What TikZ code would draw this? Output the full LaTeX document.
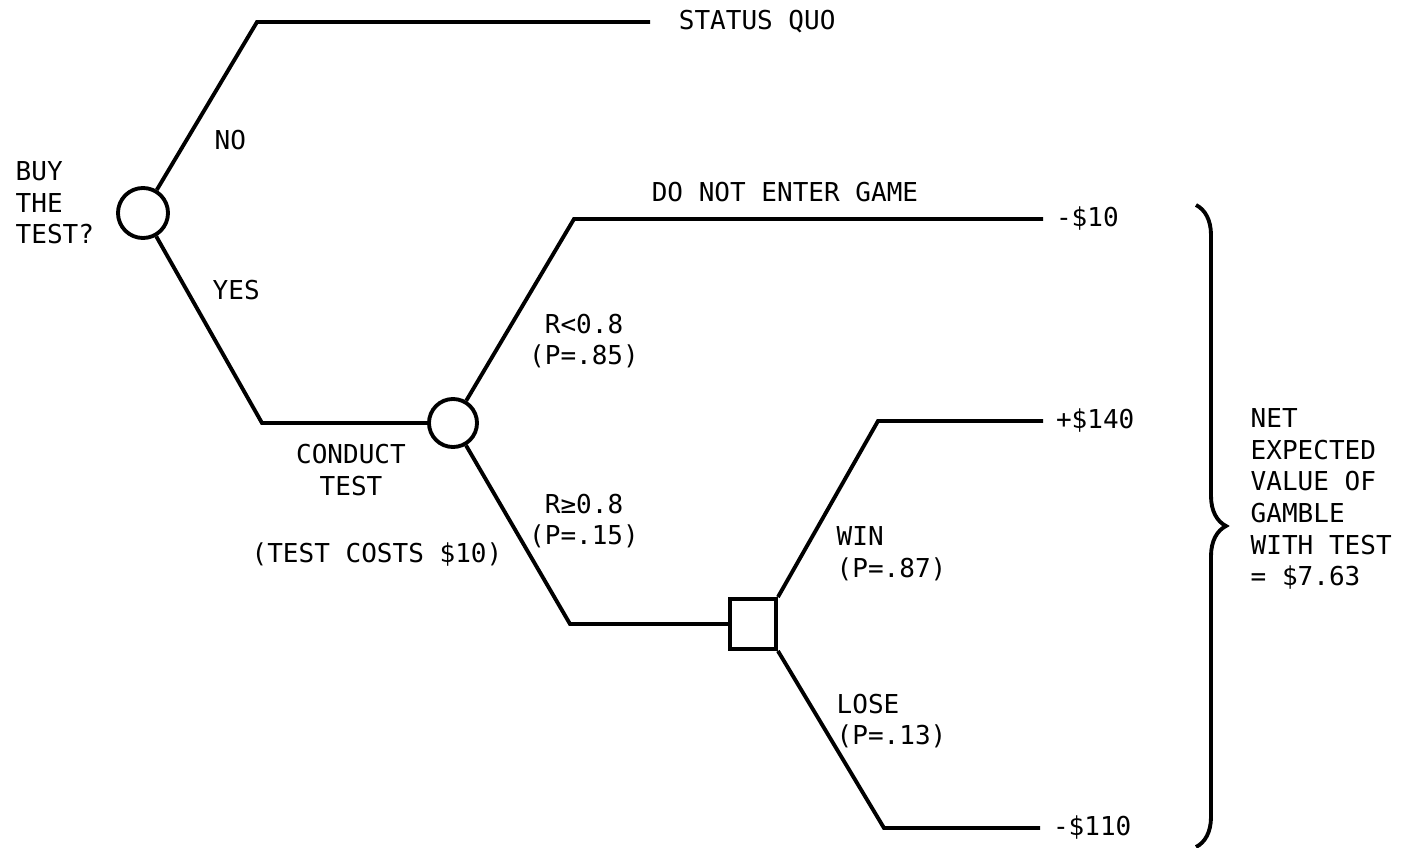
\documentclass[tikz,border=0pt]{standalone}
\usepackage{fontspec}
\setmonofont{DejaVu Sans Mono}
\usepackage{tikz}
\usetikzlibrary{positioning, calc, decorations.pathreplacing}

\begin{document}
\begin{tikzpicture}[
  x=0.01cm, y=-0.01cm,
  txt/.style={font=\ttfamily\fontsize{7.4}{9}\selectfont},
  chance/.style={draw, circle, line width=1.1pt, inner sep=0pt, minimum size=#1},
  decision/.style={draw, rectangle, line width=1.1pt, inner sep=0pt, minimum width=0.46cm, minimum height=0.5cm},
  outcome/.style={txt, anchor=west, inner ysep=0pt, inner xsep=3.5pt},
  lbl/.style={txt, inner sep=0pt, align=#1},
  branch/.style={line width=1.1pt, line join=miter},
]
\useasboundingbox (0,0) rectangle (1408,848);

% Decision on buying the test
\node[chance=0.5cm] (buy) at (143,213) {};
\node[lbl=left, anchor=west] (buyq) at (15,203) {BUY\\THE\\TEST?};
\coordinate (nobend) at (257,22);
\coordinate (yesbend) at (262,423);
\node[outcome, inner xsep=8pt] (quo) at (650,22) {STATUS QUO};
\node[lbl=left, anchor=west] (no) at (214,140) {NO};
\node[lbl=left, anchor=west] (yes) at (212,290) {YES};

% Test result
\node[chance=0.48cm] (test) at (453,423) {};
\node[lbl=center] (conduct) at (351,470) {CONDUCT\\TEST};
\node[lbl=center] (cost) at (377,555) {(TEST COSTS \$10)};
\coordinate (lowbend) at (574,219);
\coordinate (highbend) at (570,624);
\node[lbl=center] (low) at (584,341) {R<0.8\\(P=.85)};
\node[lbl=center] (high) at (584,521) {R≥0.8\\(P=.15)};
\node[lbl=center] (skip) at (785,192) {DO NOT ENTER GAME};
\node[outcome] (loss10) at (1043,219) {-\$10};

% Gamble
\node[decision] (game) at (753,624) {};
\coordinate (winbend) at (878,421);
\coordinate (losebend) at (884,828);
\node[lbl=left, anchor=west] (win) at (836,554) {WIN\\(P=.87)};
\node[lbl=left, anchor=west] (lose) at (836,721) {LOSE\\(P=.13)};
\node[outcome] (gain140) at (1043,421) {+\$140};
\node[outcome] (loss110) at (1040,828) {-\$110};

% Net value
\node[lbl=left, anchor=west] (net) at (1250,499) {NET\\EXPECTED\\VALUE OF\\GAMBLE\\WITH TEST\\= \$7.63};
\coordinate (bracetop) at (1196,205);
\coordinate (bracebot) at (1196,847);

% Branches
\draw[branch] (buy) -- (nobend) -- (quo);
\draw[branch] (buy) -- (yesbend) -- (test);
\draw[branch] (test) -- (lowbend) -- (loss10);
\draw[branch] (test) -- (highbend) -- (game);
\draw[branch] (game.north east) -- (winbend) -- (gain140);
\draw[branch] (game.south east) -- (losebend) -- (loss110);
\draw[branch, decorate, decoration={brace, amplitude=0.3cm}] (bracetop) -- (bracebot);

\end{tikzpicture}
\end{document}
